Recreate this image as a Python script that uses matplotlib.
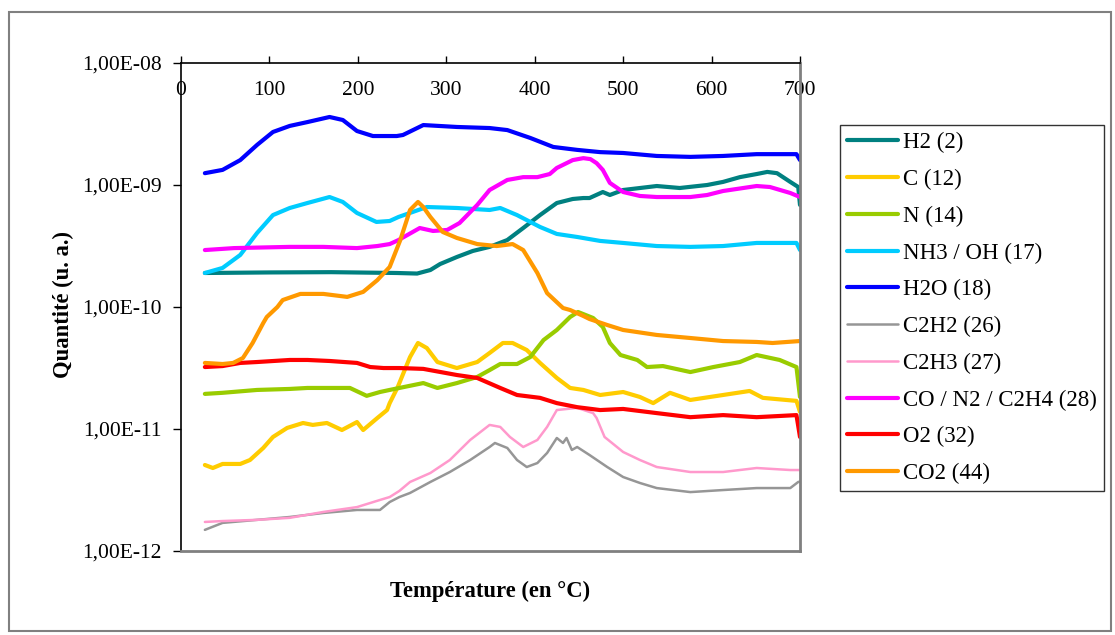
import math
import matplotlib
matplotlib.use("Agg")
import matplotlib.pyplot as plt
from matplotlib.ticker import FixedLocator, FuncFormatter, NullLocator
from matplotlib.patches import Rectangle

plt.rcParams['font.family'] = ['Liberation Serif', 'DejaVu Serif']

# ------ data ------ #

h2_t = [27, 100, 170, 244, 267, 282, 293, 312, 330, 349, 369, 387, 406, 425, 443, 455, 462, 477, 485, 500,
        538, 564, 595, 613, 632, 651, 663, 674, 689, 698, 700]
h2 = [1.90e-10, 1.92e-10, 1.93e-10, 1.90e-10, 1.88e-10, 2.01e-10, 2.25e-10, 2.57e-10, 2.88e-10, 3.11e-10,
      3.54e-10, 4.44e-10, 5.67e-10, 7.12e-10, 7.68e-10, 7.82e-10, 7.82e-10, 8.76e-10, 8.28e-10, 9.10e-10,
      9.81e-10, 9.45e-10, 1.0e-9, 1.06e-9, 1.16e-9, 1.23e-9, 1.28e-9, 1.25e-9, 1.06e-9, 9.63e-10, 6.86e-10]

c_t = [27, 36, 47, 67, 78, 93, 104, 120, 138, 149, 165, 182, 199, 206, 222, 233, 236, 245, 259, 268,
       278, 290, 312, 335, 349, 364, 375, 391, 406, 425, 440, 455, 474, 500, 519, 534, 553, 576, 613, 643,
       658, 696, 700]
c = [5.07e-12, 4.79e-12, 5.17e-12, 5.17e-12, 5.57e-12, 6.99e-12, 8.60e-12, 1.02e-11, 1.12e-11, 1.08e-11,
     1.12e-11, 9.81e-12, 1.14e-11, 9.81e-12, 1.23e-11, 1.43e-11, 1.63e-11, 2.20e-11, 3.89e-11, 5.07e-11,
     4.61e-11, 3.54e-11, 3.16e-11, 3.54e-11, 4.20e-11, 5.07e-11, 5.07e-11, 4.44e-11, 3.48e-11, 2.62e-11,
     2.17e-11, 2.09e-11, 1.90e-11, 2.01e-11, 1.83e-11, 1.63e-11, 1.98e-11, 1.73e-11, 1.90e-11, 2.05e-11,
     1.80e-11, 1.70e-11, 1.38e-11]

n_t = [27, 47, 86, 123, 143, 172, 191, 210, 225, 236, 274, 290, 312, 335, 349, 361, 380, 395, 410, 425,
       440, 449, 466, 477, 485, 497, 516, 527, 545, 576, 602, 632, 651, 677, 696, 700]
n = [1.94e-11, 1.98e-11, 2.09e-11, 2.13e-11, 2.17e-11, 2.17e-11, 2.17e-11, 1.87e-11, 2.01e-11, 2.09e-11,
     2.38e-11, 2.17e-11, 2.38e-11, 2.67e-11, 3.04e-11, 3.41e-11, 3.41e-11, 3.89e-11, 5.36e-11, 6.48e-11,
     8.28e-11, 9.10e-11, 8.13e-11, 6.86e-11, 5.07e-11, 4.04e-11, 3.68e-11, 3.22e-11, 3.28e-11, 2.93e-11,
     3.22e-11, 3.54e-11, 4.04e-11, 3.68e-11, 3.22e-11, 1.83e-11]

nh3_t = [27, 47, 67, 86, 104, 123, 143, 168, 183, 199, 221, 236, 246, 278, 312, 349, 361, 380, 406, 425,
         448, 474, 500, 538, 576, 613, 651, 696, 700]
nh3 = [1.90e-10, 2.09e-10, 2.67e-10, 4.04e-10, 5.67e-10, 6.48e-10, 7.12e-10, 7.97e-10, 7.26e-10, 5.90e-10,
       4.98e-10, 5.07e-10, 5.47e-10, 6.60e-10, 6.48e-10, 6.24e-10, 6.48e-10, 5.67e-10, 4.53e-10, 3.97e-10,
       3.75e-10, 3.48e-10, 3.35e-10, 3.16e-10, 3.11e-10, 3.16e-10, 3.35e-10, 3.35e-10, 2.93e-10]

h2o_t = [27, 47, 67, 86, 104, 123, 143, 168, 183, 199, 217, 244, 251, 274, 312, 349, 369, 395, 421, 448,
         474, 500, 538, 576, 613, 651, 696, 700]
h2o = [1.25e-9, 1.33e-9, 1.60e-9, 2.13e-9, 2.72e-9, 3.05e-9, 3.28e-9, 3.61e-9, 3.41e-9, 2.77e-9,
       2.52e-9, 2.52e-9, 2.57e-9, 3.10e-9, 2.99e-9, 2.93e-9, 2.82e-9, 2.43e-9, 2.05e-9, 1.94e-9,
       1.86e-9, 1.83e-9, 1.73e-9, 1.70e-9, 1.73e-9, 1.79e-9, 1.79e-9, 1.60e-9]

c2h2_t = [27, 47, 86, 123, 161, 199, 225, 236, 247, 259, 282, 304, 327, 349, 355, 369, 380, 391, 403, 414,
          425, 432, 436, 442, 448, 462, 482, 500, 519, 538, 576, 613, 651, 689, 698, 700]
c2h2 = [1.49e-12, 1.70e-12, 1.80e-12, 1.90e-12, 2.05e-12, 2.17e-12, 2.17e-12, 2.52e-12, 2.77e-12, 2.99e-12,
        3.68e-12, 4.44e-12, 5.57e-12, 7.12e-12, 7.68e-12, 6.99e-12, 5.57e-12, 4.88e-12, 5.26e-12, 6.36e-12,
        8.44e-12, 7.68e-12, 8.44e-12, 6.73e-12, 7.12e-12, 6.12e-12, 4.88e-12, 4.04e-12, 3.61e-12, 3.28e-12,
        3.04e-12, 3.16e-12, 3.28e-12, 3.28e-12, 3.68e-12, 3.70e-12]

c2h3_t = [27, 47, 86, 123, 161, 199, 225, 236, 247, 259, 282, 304, 327, 349, 361, 372, 387, 403, 414, 425,
          448, 466, 470, 479, 500, 519, 538, 576, 613, 651, 689, 700]
c2h3 = [1.73e-12, 1.76e-12, 1.80e-12, 1.87e-12, 2.09e-12, 2.29e-12, 2.62e-12, 2.77e-12, 3.11e-12, 3.68e-12,
        4.36e-12, 5.57e-12, 8.13e-12, 1.08e-11, 1.04e-11, 8.60e-12, 7.12e-12, 8.13e-12, 1.04e-11, 1.43e-11,
        1.49e-11, 1.35e-11, 1.23e-11, 8.60e-12, 6.48e-12, 5.57e-12, 4.88e-12, 4.44e-12, 4.44e-12, 4.79e-12,
        4.61e-12, 4.61e-12]

co_t = [27, 60, 123, 161, 199, 222, 236, 246, 270, 285, 301, 315, 335, 349, 369, 387, 403, 417, 425, 443,
        455, 463, 470, 477, 485, 500, 519, 538, 576, 595, 613, 651, 666, 689, 700]
co = [2.93e-10, 3.04e-10, 3.11e-10, 3.11e-10, 3.04e-10, 3.16e-10, 3.28e-10, 3.54e-10, 4.44e-10, 4.20e-10,
      4.28e-10, 4.88e-10, 6.86e-10, 9.10e-10, 1.10e-9, 1.16e-9, 1.16e-9, 1.23e-9, 1.38e-9, 1.60e-9,
      1.66e-9, 1.63e-9, 1.51e-9, 1.33e-9, 1.04e-9, 8.76e-10, 8.13e-10, 7.97e-10, 7.97e-10, 8.28e-10,
      8.93e-10, 9.81e-10, 9.63e-10, 8.60e-10, 7.97e-10]

o2_t = [27, 47, 67, 86, 123, 143, 168, 199, 214, 229, 247, 274, 312, 335, 361, 380, 406, 425, 448, 474,
        500, 538, 576, 613, 651, 696, 700]
o2 = [3.22e-11, 3.28e-11, 3.48e-11, 3.54e-11, 3.68e-11, 3.68e-11, 3.61e-11, 3.48e-11, 3.22e-11, 3.16e-11,
      3.16e-11, 3.11e-11, 2.77e-11, 2.62e-11, 2.17e-11, 1.90e-11, 1.80e-11, 1.63e-11, 1.51e-11, 1.43e-11,
      1.46e-11, 1.35e-11, 1.25e-11, 1.30e-11, 1.25e-11, 1.30e-11, 8.6e-12]

co2_t = [27, 47, 59, 70, 81, 93, 97, 109, 115, 135, 161, 188, 206, 222, 236, 248, 259, 268, 274, 282,
         296, 312, 335, 357, 375, 387, 403, 414, 432, 440, 455, 462, 482, 500, 538, 576, 613, 651, 669, 700]
co2 = [3.48e-11, 3.41e-11, 3.48e-11, 3.82e-11, 5.07e-11, 7.39e-11, 8.28e-11, 1.0e-10, 1.14e-10, 1.28e-10,
       1.28e-10, 1.21e-10, 1.33e-10, 1.66e-10, 2.13e-10, 3.54e-10, 6.24e-10, 7.26e-10, 6.60e-10, 5.47e-10,
       4.12e-10, 3.68e-10, 3.28e-10, 3.16e-10, 3.28e-10, 2.93e-10, 1.90e-10, 1.30e-10, 9.81e-11, 9.45e-11,
       8.44e-11, 7.97e-11, 7.12e-11, 6.48e-11, 5.90e-11, 5.57e-11, 5.26e-11, 5.17e-11, 5.07e-11, 5.26e-11]

series = [
    ("H2 (2)", h2_t, h2, "#008080", 3.0),
    ("C (12)", c_t, c, "#FFCC00", 3.0),
    ("N (14)", n_t, n, "#99CC00", 3.0),
    ("NH3 / OH (17)", nh3_t, nh3, "#00CCFF", 3.0),
    ("H2O (18)", h2o_t, h2o, "#0000FF", 3.0),
    ("C2H2 (26)", c2h2_t, c2h2, "#969696", 1.8),
    ("C2H3 (27)", c2h3_t, c2h3, "#FF99CC", 1.8),
    ("CO / N2 / C2H4 (28)", co_t, co, "#FF00FF", 3.0),
    ("O2 (32)", o2_t, o2, "#FF0000", 3.0),
    ("CO2 (44)", co2_t, co2, "#FF9900", 3.0),
]

# ------ figure ------ #

W, H = 1115, 635
fig = plt.figure(figsize=(W / 100, H / 100), dpi=100)
ax = fig.add_axes([181 / W, 1 - 551 / H, (800 - 181) / W, (551 - 63) / H])

for name, t, v, col, lw in series:
    ax.plot(t, v, color=col, lw=lw, label=name, solid_capstyle='round', solid_joinstyle='round')

ax.set_yscale('log')
ax.set_ylim(1e-12, 1e-8)
ax.set_xlim(0, 700)

ax.yaxis.set_major_locator(FixedLocator([1e-12, 1e-11, 1e-10, 1e-9, 1e-8]))
ax.yaxis.set_minor_locator(NullLocator())
ax.yaxis.set_major_formatter(FuncFormatter(lambda v, p: "1,00E-%02d" % round(-math.log10(v))))
ax.xaxis.set_major_locator(FixedLocator(range(0, 701, 100)))
ax.xaxis.tick_top()
ax.tick_params(axis='x', direction='out', length=5, width=1, pad=-31.5, labelsize=15.5)
ax.tick_params(axis='y', direction='out', length=6, width=1, pad=8, labelsize=15.5)

ax.spines['left'].set_color('black')
ax.spines['top'].set_color('black')
ax.spines['left'].set_linewidth(1.2)
ax.spines['top'].set_linewidth(1.2)
ax.spines['right'].set_color('#808080')
ax.spines['bottom'].set_color('#808080')
ax.spines['right'].set_linewidth(2)
ax.spines['bottom'].set_linewidth(2)

fig.text(63 / W, 1 - 305 / H, "Quantité (u. a.)", rotation=90, ha='center', va='center',
         fontsize=16.3, fontweight='bold')
fig.text(490 / W, 1 - 591 / H, "Température (en °C)", ha='center', va='center',
         fontsize=16.3, fontweight='bold')

leg = ax.legend(loc='upper left', bbox_to_anchor=(840 / W, 1 - 125 / H), bbox_transform=fig.transFigure,
                borderaxespad=0, frameon=True, fancybox=False, edgecolor='black', fontsize=16.5,
                handlelength=2.23, handletextpad=0.2, labelspacing=0.68, borderpad=0.32)
leg.get_frame().set_linewidth(1.0)

# outer chart border
fig.patches.append(Rectangle((9 / W, 1 - 631 / H), (1111 - 9) / W, (631 - 12) / H,
                             transform=fig.transFigure, fill=False, edgecolor='#808080', lw=1.5))

fig.savefig("out.png", dpi=100)
